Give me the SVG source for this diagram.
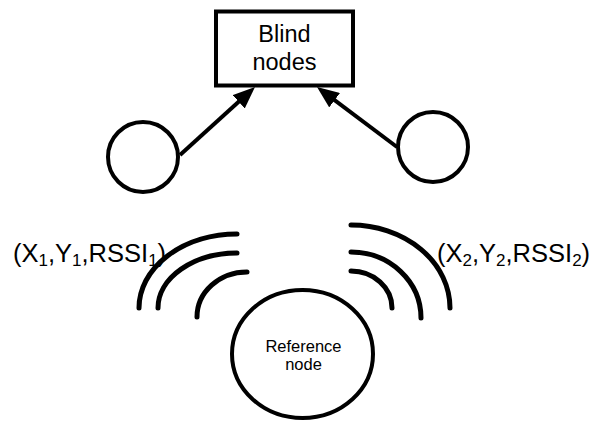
<svg xmlns="http://www.w3.org/2000/svg" width="598" height="422" viewBox="0 0 598 422">
<style>
.shape{fill:#fff;stroke:#000;stroke-width:4}
.lbl{font-family:"Liberation Sans",Arial,sans-serif;fill:#000}
.wave{fill:none;stroke:#000;stroke-width:5;stroke-linecap:round}
.conn{stroke:#000;stroke-width:4;fill:none}
.sub{font-size:17px}
</style>
<defs>
<marker id="ah" viewBox="0 0 22 18" refX="10" refY="9" markerWidth="22" markerHeight="18" markerUnits="userSpaceOnUse" orient="auto">
<path d="M0,0 L22,9 L0,18 z" fill="#000"/>
</marker>
</defs>
<rect width="598" height="422" fill="#fff"/>
<g id="connectors">
<line class="conn" x1="180" y1="155" x2="246.1" y2="95.1" marker-end="url(#ah)"/>
<line class="conn" x1="397" y1="147" x2="326.6" y2="94.2" marker-end="url(#ah)"/>
</g>
<g id="blind-nodes">
<rect class="shape" x="216" y="11.5" width="137" height="74"/>
<text class="lbl" x="284.5" y="41.7" font-size="23.5" text-anchor="middle">Blind</text>
<text class="lbl" x="284.5" y="70" font-size="23.5" text-anchor="middle">nodes</text>
</g>
<g id="node-left">
<circle class="shape" cx="143" cy="157" r="35"/>
</g>
<g id="node-right">
<circle class="shape" cx="433" cy="147" r="35"/>
</g>
<g id="reference-node">
<ellipse class="shape" cx="302.5" cy="354" rx="70.5" ry="64"/>
<text class="lbl" x="303.5" y="352" font-size="16.5" text-anchor="middle">Reference</text>
<text class="lbl" x="303.5" y="370" font-size="16.5" text-anchor="middle">node</text>
</g>
<g id="waves-left">
<path class="wave" d="M139,308 A98,74 0 0 1 237,234"/>
<path class="wave" d="M158,308 A79,55 0 0 1 237,253"/>
<path class="wave" d="M197,317 A50,45 0 0 1 247,272"/>
</g>
<g id="waves-right">
<path class="wave" d="M351,271 A41,37 0 0 1 392,308"/>
<path class="wave" d="M351,252 A70,66 0 0 1 421,318"/>
<path class="wave" d="M351,225 A99,83 0 0 1 450,308"/>
</g>
<g id="label-1">
<text class="lbl" x="13" y="262" font-size="25.5">(X<tspan class="sub" dy="4">1</tspan><tspan dy="-4">,Y</tspan><tspan class="sub" dy="4">1</tspan><tspan dy="-4">,RSSI</tspan><tspan class="sub" dy="4">1</tspan><tspan dy="-4">)</tspan></text>
</g>
<g id="label-2">
<text class="lbl" x="437" y="262" font-size="25.5">(X<tspan class="sub" dy="4">2</tspan><tspan dy="-4">,Y</tspan><tspan class="sub" dy="4">2</tspan><tspan dy="-4">,RSSI</tspan><tspan class="sub" dy="4">2</tspan><tspan dy="-4">)</tspan></text>
</g>
</svg>
